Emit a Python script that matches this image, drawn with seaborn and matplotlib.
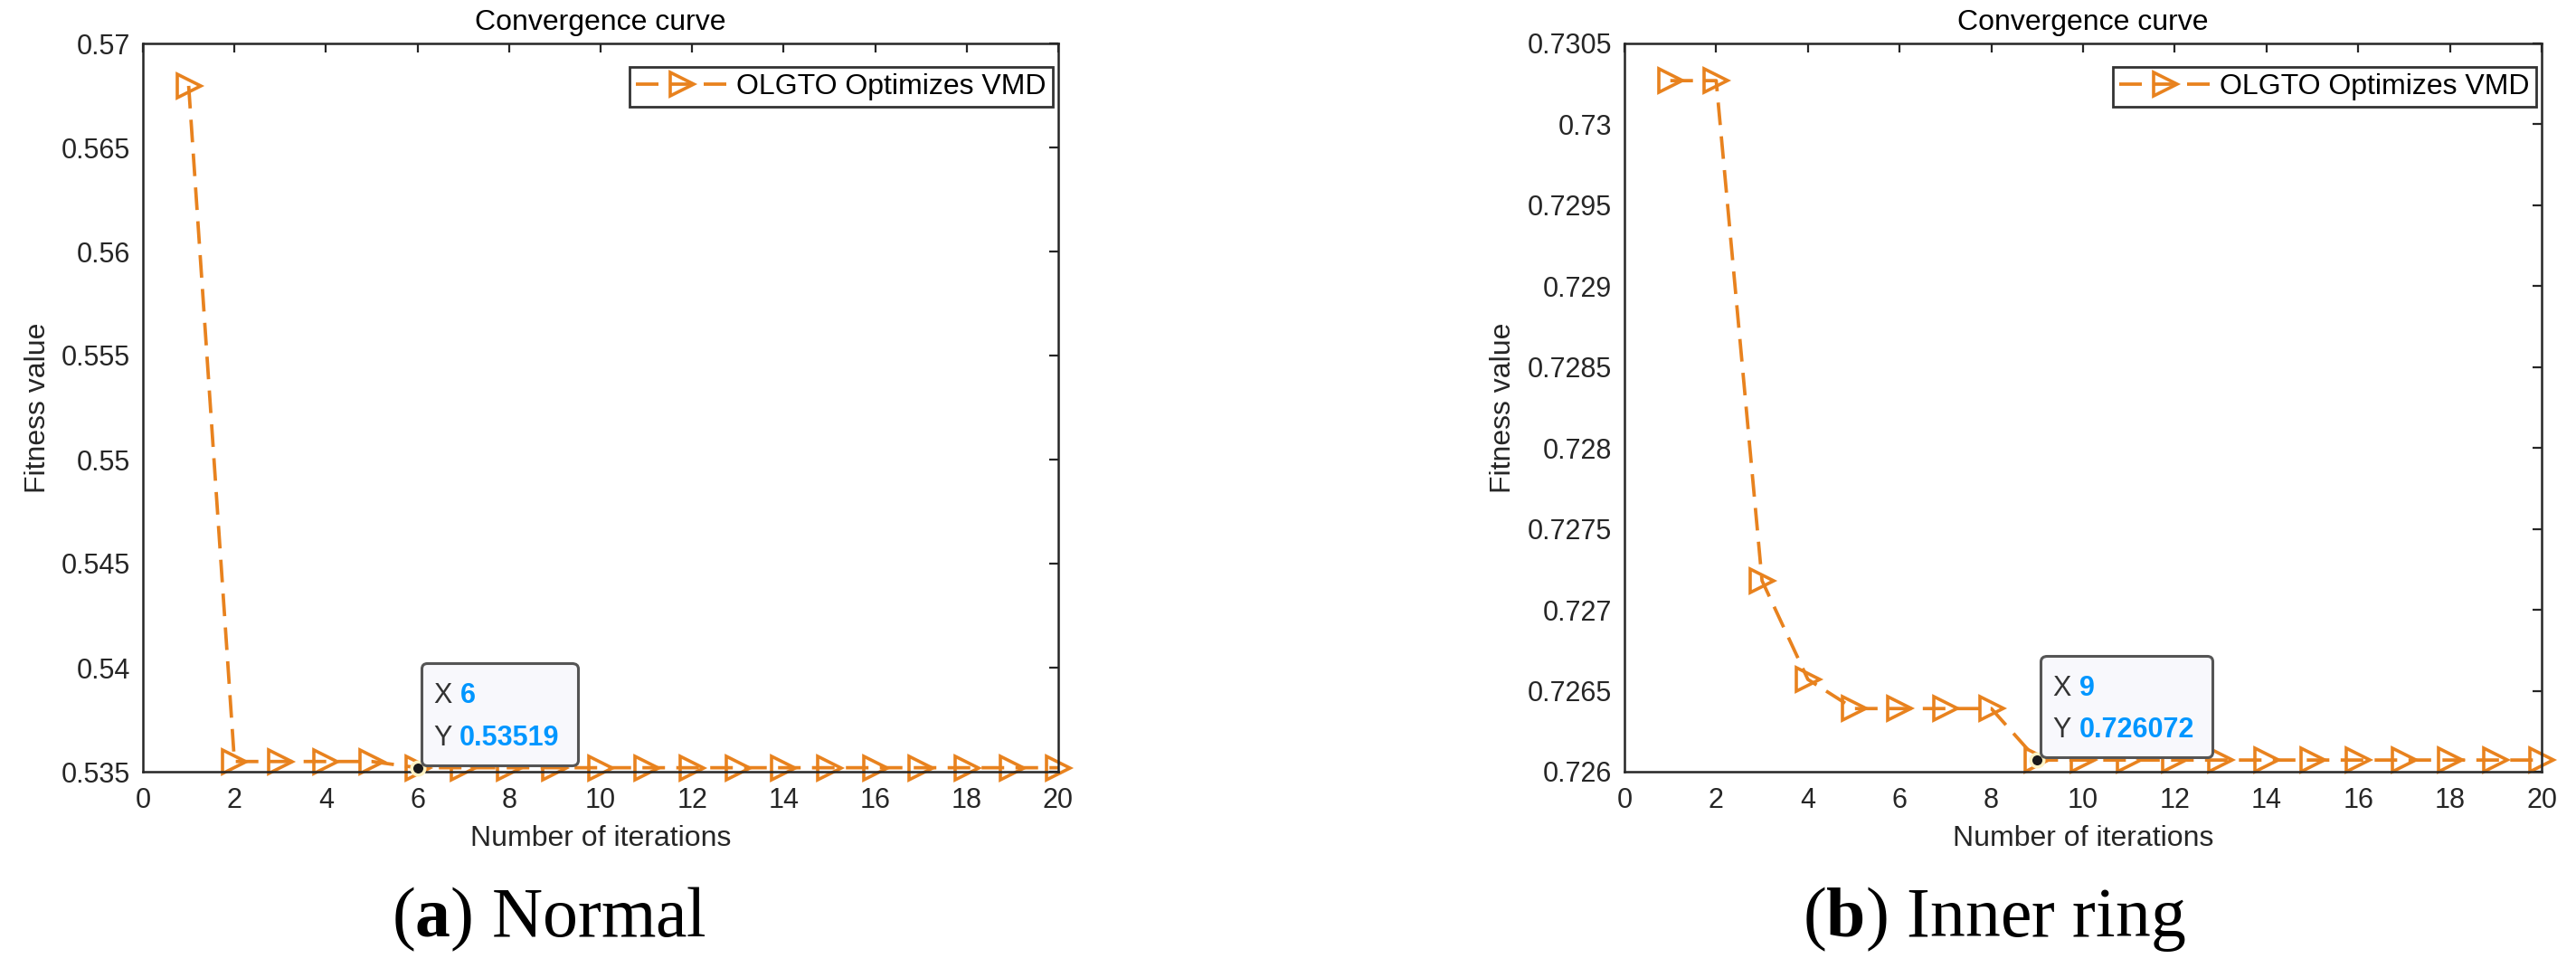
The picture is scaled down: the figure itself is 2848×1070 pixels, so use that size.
import matplotlib
matplotlib.use("Agg")
import matplotlib.pyplot as plt
import numpy as np
import pandas as pd
import seaborn as sns
from matplotlib.offsetbox import TextArea, HPacker, VPacker, AnnotationBbox, DrawingArea

# ---------------- data ----------------
iterations = [1, 2, 3, 4, 5, 6, 7, 8, 9, 10, 11, 12, 13, 14, 15, 16, 17, 18, 19, 20]
normal_fitness = [0.56796, 0.53549, 0.53549, 0.53549, 0.53549, 0.53519, 0.53519,
                  0.53519, 0.53519, 0.53519, 0.53519, 0.53519, 0.53519, 0.53519,
                  0.53519, 0.53519, 0.53519, 0.53519, 0.53519, 0.53519]
inner_fitness = [0.73027, 0.73027, 0.72718, 0.72657, 0.72639, 0.72639, 0.72639,
                 0.72639, 0.726072, 0.726072, 0.726072, 0.726072, 0.726072, 0.726072,
                 0.726072, 0.726072, 0.726072, 0.726072, 0.726072, 0.726072]
series_label = "OLGTO Optimizes VMD"

normal_yticks = [0.535, 0.54, 0.545, 0.55, 0.555, 0.56, 0.565, 0.57]
inner_yticks = [0.726, 0.7265, 0.727, 0.7275, 0.728, 0.7285, 0.729, 0.7295, 0.73, 0.7305]
xticks = [0, 2, 4, 6, 8, 10, 12, 14, 16, 18, 20]

tip_normal = (6, 0.53519, "6", "0.53519")
tip_inner = (9, 0.726072, "9", "0.726072")

captions = [("a", "Normal"), ("b", "Inner ring")]

# ---------------- style ----------------
sns.set_style("white")
plt.rcParams["font.family"] = ["Liberation Sans", "DejaVu Sans"]
plt.rcParams["mathtext.fontset"] = "custom"
plt.rcParams["mathtext.rm"] = "Liberation Serif"
plt.rcParams["mathtext.bf"] = "Liberation Serif:bold"
plt.rcParams["lines.scale_dashes"] = False

ORANGE = "#E8821E"
DARK = "#262626"
BLUE = "#0096FF"

W, H = 2848, 1070
fig = plt.figure(figsize=(W / 100, H / 100), dpi=100)

ax_left = fig.add_axes([158 / W, (H - 853) / H, 1012 / W, 805 / H])
ax_right = fig.add_axes([1796 / W, (H - 853) / H, 1014 / W, 805 / H])

panels = [
    (ax_left, normal_fitness, normal_yticks, tip_normal, -0.100),
    (ax_right, inner_fitness, inner_yticks, tip_inner, -0.117),
]

PX = 0.72  # points per pixel at dpi 100

for ax, yvals, yticks, tip, ylab_x in panels:
    df = pd.DataFrame({"iter": iterations, "fit": yvals})
    sns.lineplot(data=df, x="iter", y="fit", ax=ax, color=ORANGE,
                 linewidth=2.7, marker=">", markersize=19,
                 markerfacecolor="none", markeredgecolor=ORANGE,
                 markeredgewidth=2.6, label=series_label, legend=False)
    line = ax.lines[-1]
    line.set_dashes((18, 9))
    line.set_markerfacecolor("none")
    line.set_markeredgecolor(ORANGE)
    line.set_clip_on(False)

    ax.set_xlim(0, 20)
    ax.set_ylim(yticks[0], yticks[-1])
    ax.set_xticks(xticks)
    ax.set_xticklabels([f"{t:g}" for t in xticks])
    ax.set_yticks(yticks)
    ax.set_yticklabels([f"{t:g}" for t in yticks])

    for sp in ax.spines.values():
        sp.set_visible(True)
        sp.set_color(DARK)
        sp.set_linewidth(1.8)
    ax.tick_params(axis="both", direction="in", top=True, right=True,
                   length=7, width=1.6, color=DARK, labelcolor=DARK,
                   labelsize=22)
    ax.tick_params(axis="x", pad=12)
    ax.tick_params(axis="y", pad=10)

    ax.set_title("Convergence curve", fontsize=23, color="black", pad=11)
    ax.set_xlabel("Number of iterations", fontsize=23, color=DARK, labelpad=9)
    ax.set_ylabel("Fitness value", fontsize=23, color=DARK)
    ax.yaxis.set_label_coords(ylab_x, 0.5)

    leg = ax.legend(loc="upper right", bbox_to_anchor=(1 - 6 / 1012, 1 - 26 / 805),
                    borderaxespad=0, fontsize=23, frameon=True, fancybox=False,
                    handlelength=3.2, handletextpad=0.3, borderpad=0.22,
                    edgecolor="black")
    leg.get_frame().set_linewidth(2.0)
    leg.get_frame().set_facecolor("white")
    for t in leg.get_texts():
        t.set_color("black")

    # data tip marker
    sns.scatterplot(x=[tip[0]], y=[tip[1]], ax=ax, s=110, color="#1a1a1a",
                    edgecolor="#FFF3C4", linewidth=2.5, zorder=6, legend=False)
    for c in ax.collections:
        c.set_clip_on(False)

    # data tip box
    tp_lab = dict(fontsize=22, color="#333333", family="Liberation Sans")
    tp_val = dict(fontsize=22, color=BLUE, family="Liberation Sans", fontweight="bold")
    row1 = HPacker(children=[TextArea("X ", textprops=tp_lab),
                             TextArea(tip[2], textprops=tp_val)], align="baseline", pad=0, sep=0)
    row2 = HPacker(children=[TextArea("Y ", textprops=tp_lab),
                             TextArea(tip[3], textprops=tp_val)], align="baseline", pad=0, sep=0)
    rows = VPacker(children=[row1, row2], align="left", pad=0, sep=12)
    col = VPacker(children=[DrawingArea(1, 21 * PX), rows, DrawingArea(1, 15 * PX)],
                  align="left", pad=0, sep=0)
    box = HPacker(children=[DrawingArea(14 * PX, 1), col, DrawingArea(20 * PX, 1)],
                  align="center", pad=0, sep=0)
    ab = AnnotationBbox(box, (tip[0], tip[1]), xybox=(3, 2), xycoords="data",
                        boxcoords="offset points", box_alignment=(0, 0), pad=0,
                        frameon=True,
                        bboxprops=dict(boxstyle="round,pad=0,rounding_size=0.45",
                                       fc="#F8F8FC", ec="#555555", lw=2.2),
                        zorder=7)
    ax.add_artist(ab)

# captions
cap_x = [607 / W, 2205 / W]
for (letter, name), cx in zip(captions, cap_x):
    fig.text(cx, (H - 1035) / H, rf"($\mathbf{{{letter}}}$) {name}",
             ha="center", va="baseline", fontsize=56,
             family="Liberation Serif", color="black")

fig.savefig("out.png", dpi=100, facecolor="white")
